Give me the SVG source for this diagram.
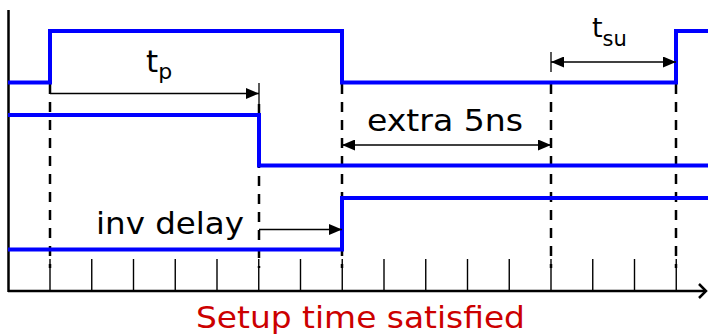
<svg xmlns="http://www.w3.org/2000/svg" width="708" height="336" viewBox="0 0 708 336">
<style>
.sig{fill:none;stroke:#0000FF;stroke-width:4;stroke-linejoin:miter}
.dash{stroke:#000;stroke-width:2.5;stroke-dasharray:10 8}
.dim{stroke:#000;stroke-width:1.3;fill:none}
.tick{stroke:#000;stroke-width:1.4}
.axis{stroke:#000;stroke-width:2.5;fill:none}
text{font-family:"DejaVu Sans","Verdana",sans-serif;fill:#000}
</style>
<defs>
<marker id="ah" markerWidth="13" markerHeight="11" refX="13" refY="5.5" orient="auto-start-reverse" markerUnits="userSpaceOnUse">
<path d="M0,0 L13,5.5 L0,11 Z" fill="#000"/>
</marker>
</defs>
<rect width="708" height="336" fill="#fff"/>
<g id="axes">
<line class="axis" x1="8.5" y1="10" x2="8.5" y2="292"/>
<line class="axis" x1="8" y1="291" x2="705" y2="291"/>
<path class="axis" d="M699,284 L706,291 L699,298"/>
<g id="ticks">
<line class="tick" x1="50" y1="259" x2="50" y2="291"/>
<line class="tick" x1="91.75" y1="259" x2="91.75" y2="291"/>
<line class="tick" x1="133.5" y1="259" x2="133.5" y2="291"/>
<line class="tick" x1="175.25" y1="259" x2="175.25" y2="291"/>
<line class="tick" x1="217" y1="259" x2="217" y2="291"/>
<line class="tick" x1="258.75" y1="259" x2="258.75" y2="291"/>
<line class="tick" x1="300.5" y1="259" x2="300.5" y2="291"/>
<line class="tick" x1="342.25" y1="259" x2="342.25" y2="291"/>
<line class="tick" x1="384" y1="259" x2="384" y2="291"/>
<line class="tick" x1="425.75" y1="259" x2="425.75" y2="291"/>
<line class="tick" x1="467.5" y1="259" x2="467.5" y2="291"/>
<line class="tick" x1="509.25" y1="259" x2="509.25" y2="291"/>
<line class="tick" x1="551" y1="259" x2="551" y2="291"/>
<line class="tick" x1="592.75" y1="259" x2="592.75" y2="291"/>
<line class="tick" x1="634.5" y1="259" x2="634.5" y2="291"/>
<line class="tick" x1="676.25" y1="259" x2="676.25" y2="291"/>
</g>
</g>
<g id="guides">
<line class="dash" x1="50" y1="84" x2="50" y2="268"/>
<line class="dash" x1="259" y1="104" x2="259" y2="268"/>
<line class="dash" x1="342" y1="84" x2="342" y2="268"/>
<line class="dash" x1="551" y1="84" x2="551" y2="268"/>
<line class="dash" x1="676" y1="84" x2="676" y2="268"/>
</g>
<g id="signals">
<path id="sig1" class="sig" d="M8,82.5 H50 V31 H342 V82.5 H676 V31 H708"/>
<path id="sig2" class="sig" d="M8,115 H259 V165.5 H708"/>
<path id="sig3" class="sig" d="M8,249.5 H342 V198 H708"/>
</g>
<g id="connectors">
<line class="dim" x1="259" y1="83" x2="259" y2="104"/>
<line class="dim" x1="50" y1="93.5" x2="259" y2="93.5" marker-end="url(#ah)"/>
<line class="dim" x1="342" y1="145" x2="551" y2="145" marker-start="url(#ah)" marker-end="url(#ah)"/>
<line class="dim" x1="551" y1="52" x2="551" y2="72"/>
<line class="dim" x1="551" y1="62" x2="676" y2="62" marker-start="url(#ah)" marker-end="url(#ah)"/>
<line class="dim" x1="259" y1="229.5" x2="342" y2="229.5" marker-end="url(#ah)"/>
</g>
<g id="labels">
<text x="146" y="72" font-size="31">t<tspan font-size="22" dy="7">p</tspan></text>
<text x="592" y="37" font-size="27">t<tspan font-size="21" dy="9">su</tspan></text>
<text x="367" y="131" font-size="31" textLength="156" lengthAdjust="spacingAndGlyphs">extra 5ns</text>
<text x="96" y="234" font-size="31" textLength="148" lengthAdjust="spacingAndGlyphs">inv delay</text>
<text x="196" y="328" font-size="30.5" textLength="329" lengthAdjust="spacingAndGlyphs" style="fill:#CC0000">Setup time satisfied</text>
</g>
</svg>
